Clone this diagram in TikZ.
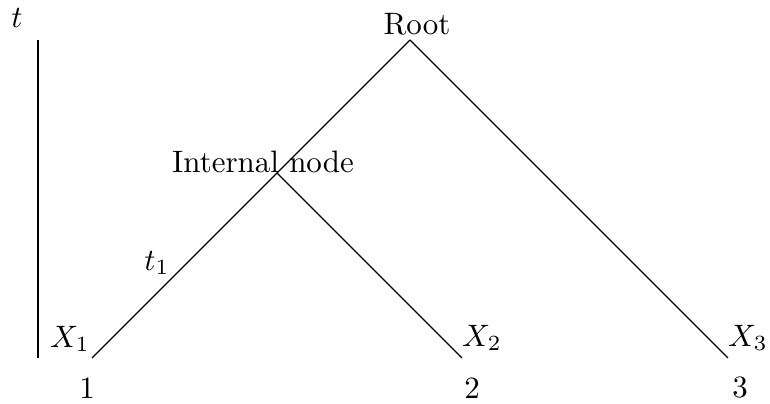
\documentclass[tikz,border=0pt]{standalone}
\begin{document}
\begin{tikzpicture}[scale=.1135]
					\useasboundingbox (0,0) rectangle (77,40.4);
					\coordinate (root) at (41,36.4);
					\coordinate (in) at (27.7,23.1);
					\coordinate (l1) at (9.2,4.6);
					\coordinate (l2) at (46.2,4.6);
					\coordinate (l3) at (72.8,4.6);
					\coordinate (tb) at (3.8,4.6);
					\coordinate (tt) at (3.8,36.4);
					\node (r) at (41.7,38.0) {Root};
					\node (i) at (26.3,24.2) {Internal node};
					\node (t) at (1.7,38.6) {$t$};
					\node (t1) at (15.7,14.1) {$t_1$};
					\node (x1) at (7.0,6.5) {$X_1$};
					\node (x2) at (48.2,6.6) {$X_2$};
					\node (x3) at (74.8,6.6) {$X_3$};
					\node (n1) at (8.7,1.6) {1};
					\node (n2) at (47.2,1.6) {2};
					\node (n3) at (74.0,1.6) {3};
					\draw (root) -- (in);
					\draw (in) -- (l1);
					\draw (in) -- (l2);
					\draw (root) -- (l3);
					\draw[thick] (tb) -- (tt);
				\end{tikzpicture}
\end{document}
